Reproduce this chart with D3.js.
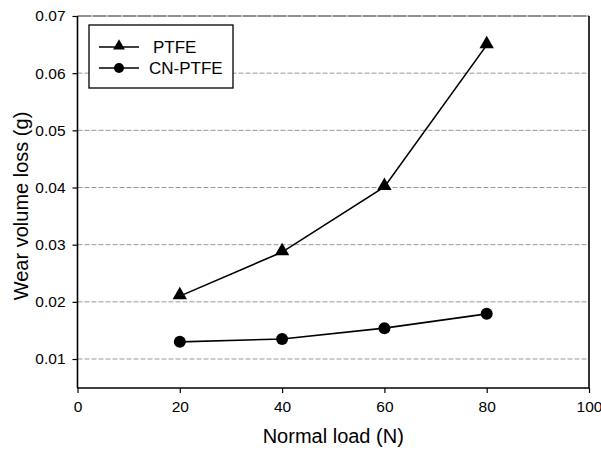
<!DOCTYPE html>
<html>
<head>
<meta charset="utf-8">
<script src="https://cdn.jsdelivr.net/npm/d3@7"></script>
<style>
  body { margin: 0; background: #fff; }
  text { font-family: "Liberation Sans", Arial, sans-serif; fill: #000; }
</style>
</head>
<body>
<div id="chart"></div>
<script>
// data
const loads = [20, 40, 60, 80];
const ptfe = [0.021, 0.0287, 0.0401, 0.0649];
const cnPtfe = [0.0130, 0.0135, 0.0154, 0.0179];
const xTicks = [0, 20, 40, 60, 80, 100];
const yTicks = [0.01, 0.02, 0.03, 0.04, 0.05, 0.06, 0.07];
const seriesNames = ['PTFE', 'CN-PTFE'];

const W = 601, H = 452;
const margin = {top: 16, right: 12, bottom: 64, left: 77.5};
const width = W - margin.left - margin.right;
const height = H - margin.top - margin.bottom;

const svg = d3.select('#chart').append('svg')
  .attr('width', W)
  .attr('height', H);

const g = svg.append('g')
  .attr('transform', 'translate(' + margin.left + ',' + margin.top + ')');

const x = d3.scaleLinear().domain([0, 100]).range([0, width]);
const y = d3.scaleLinear().domain([0.00493, 0.07]).range([height, 0]);

// gridlines
g.selectAll('line.grid')
  .data(yTicks.filter(d => d < 0.07))
  .enter().append('line')
  .attr('class', 'grid')
  .attr('x1', 0).attr('x2', width)
  .attr('y1', d => y(d)).attr('y2', d => y(d))
  .attr('stroke', '#999')
  .attr('stroke-width', 1)
  .attr('stroke-dasharray', '5,2');

// frame: top + right
g.append('line')
  .attr('x1', 0).attr('x2', width).attr('y1', 0).attr('y2', 0)
  .attr('stroke', '#222').attr('stroke-width', 1.2)
  .attr('stroke-dasharray', '14,1');
g.append('line')
  .attr('x1', width).attr('x2', width).attr('y1', 0).attr('y2', height)
  .attr('stroke', '#000').attr('stroke-width', 1.6);

// axes
const xAxis = d3.axisBottom(x).tickValues(xTicks).tickSize(5).tickPadding(8)
  .tickFormat(d3.format('d'));
const yAxis = d3.axisLeft(y).tickValues(yTicks).tickSize(5).tickPadding(7)
  .tickFormat(d3.format('.2f'));

const gx = g.append('g')
  .attr('transform', 'translate(0,' + height + ')')
  .call(xAxis);
const gy = g.append('g').call(yAxis);

[gx, gy].forEach(a => {
  a.select('.domain').attr('stroke', '#000').attr('stroke-width', 1.6);
  a.selectAll('.tick line').attr('stroke', '#000').attr('stroke-width', 1.2);
  a.selectAll('.tick text')
    .style('font-family', '"Liberation Sans", Arial, sans-serif')
    .style('font-size', '15.5px')
    .attr('fill', '#000');
});
gy.select('.domain').attr('d', 'M-0,' + height + 'V0');
gx.select('.domain').attr('d', 'M0,0H' + width);

// lines
const line = d3.line()
  .x((d, i) => x(loads[i]))
  .y(d => y(d));

g.append('path')
  .attr('d', line(ptfe))
  .attr('fill', 'none')
  .attr('stroke', '#000')
  .attr('stroke-width', 1.6);

g.append('path')
  .attr('d', line(cnPtfe))
  .attr('fill', 'none')
  .attr('stroke', '#000')
  .attr('stroke-width', 1.6);

const tri = d3.symbol().type(d3.symbolTriangle).size(90);

g.selectAll('path.tri')
  .data(ptfe)
  .enter().append('path')
  .attr('class', 'tri')
  .attr('d', tri)
  .attr('transform', (d, i) => 'translate(' + x(loads[i]) + ',' + (y(d) - 1) + ')')
  .attr('fill', '#000');

g.selectAll('circle.dot')
  .data(cnPtfe)
  .enter().append('circle')
  .attr('class', 'dot')
  .attr('r', 6)
  .attr('cx', (d, i) => x(loads[i]))
  .attr('cy', d => y(d))
  .attr('fill', '#000');

// legend
const legend = svg.append('g');
legend.append('rect')
  .attr('x', 89).attr('y', 25)
  .attr('width', 144).attr('height', 63)
  .attr('fill', '#fff')
  .attr('stroke', '#000')
  .attr('stroke-width', 1.3);

const rowY = [47, 68];
const textX = [153, 149];
seriesNames.forEach((name, i) => {
  legend.append('line')
    .attr('x1', 99).attr('x2', 139)
    .attr('y1', rowY[i]).attr('y2', rowY[i])
    .attr('stroke', '#000').attr('stroke-width', 1.3);
  if (i === 0) {
    legend.append('path')
      .attr('d', d3.symbol().type(d3.symbolTriangle).size(60)())
      .attr('transform', 'translate(119,' + (rowY[i] - 1) + ')')
      .attr('fill', '#000');
  } else {
    legend.append('circle')
      .attr('cx', 119).attr('cy', rowY[i]).attr('r', 5)
      .attr('fill', '#000');
  }
  legend.append('text')
    .attr('x', textX[i]).attr('y', rowY[i] + 6)
    .style('font-size', '17px')
    .text(name);
});

// axis titles
svg.append('text')
  .attr('x', margin.left + width / 2)
  .attr('y', 443)
  .attr('text-anchor', 'middle')
  .style('font-size', '20px')
  .text('Normal load (N)');

svg.append('text')
  .attr('transform', 'translate(28,' + 206 + ') rotate(-90)')
  .attr('text-anchor', 'middle')
  .style('font-size', '20px')
  .text('Wear volume loss (g)');
</script>
</body>
</html>
